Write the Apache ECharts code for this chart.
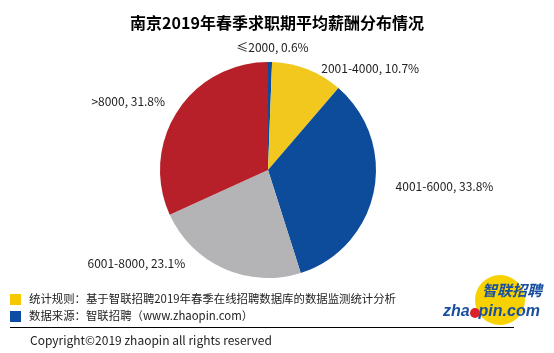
<!DOCTYPE html>
<html>
<head>
<meta charset="utf-8">
<script src="https://cdn.jsdelivr.net/npm/echarts@6/dist/echarts.min.js"></script>
<style>
html, body { margin: 0; padding: 0; background: #fff; }
#main { width: 554px; height: 353px; }
</style>
</head>
<body>
<div id="main"></div>
<script>
var myChart = echarts.init(document.getElementById('main'));

// 薪酬区间及占比
var categories = ['≤2000', '2001-4000', '4001-6000', '6001-8000', '>8000'];
var values = [0.6, 10.7, 33.8, 23.1, 31.8];
var colors = ['#0d4c9b', '#f2c81e', '#0d4c9b', '#b4b4b6', '#b71f29'];

// label nudges so they sit where Excel put them
var labelShift = [[-42, -3], [-11, 4], [2, -8], [-26, -16], [6, -4]];

var font = '"Microsoft YaHei", "Noto Sans CJK SC", sans-serif';

var pieData = [];
for (var i = 0; i < categories.length; i++) {
    pieData.push({
        name: categories[i],
        value: values[i],
        itemStyle: { color: colors[i] }
    });
}

option = {
    backgroundColor: '#fff',
    animation: false,
    title: {
        text: '南京2019年春季求职期平均薪酬分布情况',
        left: 'center',
        top: 10,
        textStyle: {
            fontFamily: font,
            fontSize: 16,
            fontWeight: 'bold',
            color: '#000'
        }
    },
    series: [
        {
            type: 'pie',
            center: [268, 170],
            radius: 108,
            startAngle: 90,
            clockwise: true,
            data: pieData,
            itemStyle: {
                borderWidth: 0
            },
            label: {
                show: true,
                position: 'outside',
                formatter: function (p) {
                    return p.name + ', ' + p.value.toFixed(1) + '%';
                },
                fontFamily: font,
                fontSize: 12,
                color: '#222',
                distanceToLabelLine: 0
            },
            labelLine: {
                show: false,
                length: 12,
                length2: 8
            },
            labelLayout: function (params) {
                var s = labelShift[params.dataIndex];
                return { dx: s[0], dy: s[1] };
            }
        }
    ],
    graphic: [
        { type: 'rect', shape: { x: 10, y: 294, width: 11, height: 11 }, style: { fill: '#f7c800' } },
        { type: 'rect', shape: { x: 10, y: 311, width: 11, height: 11 }, style: { fill: '#0b4da2' } },
        {
            type: 'text', left: 29, top: 293,
            style: { text: '统计规则：基于智联招聘2019年春季在线招聘数据库的数据监测统计分析', font: '11.4px ' + font, fill: '#222' }
        },
        {
            type: 'text', left: 29, top: 310,
            style: { text: '数据来源：智联招聘（www.zhaopin.com）', font: '11.4px ' + font, fill: '#222' }
        },
        { type: 'line', shape: { x1: 10, y1: 327.5, x2: 514, y2: 327.5 }, style: { stroke: '#000', lineWidth: 1 } },
        {
            type: 'text', left: 30, top: 334,
            style: { text: 'Copyright©2019 zhaopin all rights reserved', font: '12px ' + font, fill: '#222' }
        },
        // logo
        { type: 'circle', shape: { cx: 500, cy: 300, r: 25 }, style: { fill: '#f7d100' }, z: 1 },
        {
            type: 'text', left: 482, top: 283, z: 2,
            style: { text: '智联招聘', font: 'italic bold 15px ' + font, fill: '#1a4fa0' }
        },
        {
            type: 'text', left: 443, top: 304, z: 2,
            style: { text: 'zha  pin.com', font: 'italic bold 16px Arial, "Liberation Sans", sans-serif', fill: '#1a4fa0' }
        },
        { type: 'circle', shape: { cx: 475, cy: 313, r: 5 }, style: { fill: '#d8232a' }, z: 3 }
    ]
};

myChart.setOption(option);
</script>
</body>
</html>
